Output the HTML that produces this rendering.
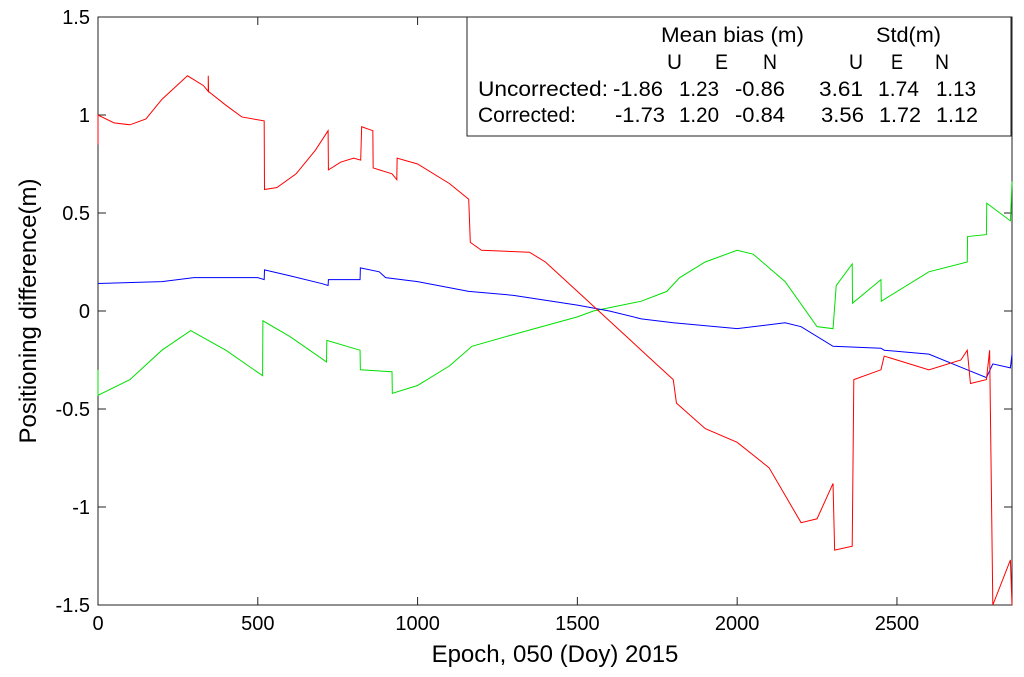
<!DOCTYPE html>
<html><head><meta charset="utf-8"><style>
body{margin:0;background:#fff}
svg{display:block;font-family:"Liberation Sans",sans-serif}
</style></head><body>
<svg id="c" width="1024" height="677"></svg>
<script>
const xTicks=[0,500,1000,1500,2000,2500];
const yTicks=[-1.5,-1,-0.5,0,0.5,1,1.5];
const yTickLabels=["-1.5","-1","-0.5","0","0.5","1","1.5"];
const redX=[0,0,50,100,150,200,280,330,345,345,346,400,450,520,521,560,620,680,720,721,760,800,822,825,860,861,920,935,936,1000,1100,1160,1165,1200,1350,1400,1500,1600,1700,1800,1810,1900,2000,2100,2200,2250,2300,2305,2360,2365,2450,2460,2500,2600,2700,2720,2730,2780,2790,2800,2855,2860];
const redY=[0.85,1.0,0.96,0.95,0.98,1.08,1.2,1.15,1.12,1.2,1.12,1.05,0.99,0.97,0.62,0.63,0.7,0.82,0.92,0.72,0.76,0.78,0.77,0.94,0.92,0.73,0.7,0.67,0.78,0.75,0.65,0.57,0.35,0.31,0.3,0.25,0.1,-0.05,-0.2,-0.35,-0.47,-0.6,-0.67,-0.8,-1.08,-1.06,-0.88,-1.22,-1.2,-0.35,-0.3,-0.23,-0.25,-0.3,-0.25,-0.2,-0.37,-0.35,-0.2,-1.5,-1.27,-1.5];
const blueX=[0,200,300,500,520,521,600,700,720,721,820,821,880,900,1000,1160,1300,1500,1600,1700,1800,2000,2150,2200,2300,2450,2460,2600,2720,2780,2800,2855,2860];
const blueY=[0.14,0.15,0.17,0.17,0.16,0.21,0.18,0.14,0.13,0.16,0.16,0.22,0.2,0.17,0.15,0.1,0.08,0.03,0.0,-0.04,-0.06,-0.09,-0.06,-0.08,-0.18,-0.19,-0.2,-0.22,-0.3,-0.34,-0.27,-0.29,-0.22];
const greenX=[0,0,100,200,290,400,515,516,600,715,716,820,821,920,921,1000,1100,1170,1300,1500,1550,1700,1780,1820,1900,2000,2050,2150,2250,2300,2310,2360,2361,2450,2451,2600,2720,2721,2780,2781,2855,2860];
const greenY=[-0.3,-0.43,-0.35,-0.2,-0.1,-0.2,-0.33,-0.05,-0.13,-0.26,-0.15,-0.2,-0.3,-0.31,-0.42,-0.38,-0.28,-0.18,-0.12,-0.03,0.0,0.05,0.1,0.17,0.25,0.31,0.29,0.15,-0.08,-0.09,0.13,0.24,0.04,0.16,0.05,0.2,0.25,0.38,0.39,0.55,0.46,0.66];
const L=98,R=1012,T=17,B=605,XMAX=2860;
const sx=v=>L+(v/XMAX)*(R-L), sy=v=>T+(1.5-v)/3*(B-T);
const svg=document.getElementById('c'),NS='http://www.w3.org/2000/svg';
function mk(t,a,p){const e=document.createElementNS(NS,t);for(const k in a)e.setAttribute(k,a[k]);(p||svg).appendChild(e);return e;}
let e=mk('rect',{x:L,y:T,width:R-L,height:B-T,fill:'#fff',stroke:'#222','stroke-width':1});


xTicks.forEach(v=>{mk('line',{x1:sx(v),x2:sx(v),y1:B,y2:B-8,stroke:'#222'});mk('line',{x1:sx(v),x2:sx(v),y1:T,y2:T+8,stroke:'#222'});
 const t=mk('text',{x:sx(v),y:B+25,'font-size':20,'text-anchor':'middle'});t.textContent=v;
 
 });
yTicks.forEach((v,i)=>{mk('line',{x1:L,x2:L+8,y1:sy(v),y2:sy(v),stroke:'#222'});mk('line',{x1:R,x2:R-8,y1:sy(v),y2:sy(v),stroke:'#222'});
 const t=mk('text',{x:L-8,y:sy(v)+7,'font-size':20,'text-anchor':'end'});t.textContent=yTickLabels[i];
 
 });
function line(xs,ys,c,n){const p=mk('polyline',{points:xs.map((x,i)=>sx(x)+','+sy(ys[i])).join(' '),fill:'none',stroke:c,'stroke-width':1});
 
 }
line(greenX,greenY,'#00e000','series-e');
line(blueX,blueY,'#0000ff','series-n');
line(redX,redY,'#ff0000','series-u');
let xt=mk('text',{x:555,y:662,'font-size':24,'text-anchor':'middle'});xt.textContent='Epoch, 050 (Doy) 2015';


let yt=mk('text',{x:0,y:0,'font-size':24,'text-anchor':'middle',transform:'translate(36,311) rotate(-90)'});yt.textContent='Positioning difference(m)';


const g=mk('g',{});


mk('rect',{x:467,y:17,width:544,height:119,fill:'#fff',stroke:'#222'},g);
const rows=[[661,143,42,'Mean bias (m)'],[876,65,42,'Std(m)'],[667,15,69,'U'],[715,13,69,'E'],[763,14,69,'N'],[849,14,69,'U'],[891,12,69,'E'],[935,14,69,'N'],
[478,130,96,'Uncorrected:'],[613,50,96,'-1.86'],[679,40,96,'1.23'],[735,50,96,'-0.86'],[819,44,96,'3.61'],[878,41,96,'1.74'],[936,40,96,'1.13'],
[478,98,122,'Corrected:'],[615,50,122,'-1.73'],[679,40,122,'1.20'],[735,50,122,'-0.84'],[821,43,122,'3.56'],[879,42,122,'1.72'],[936,42,122,'1.12']];
rows.forEach(r=>{const t=mk('text',{x:r[0],y:r[2],'font-size':21,textLength:r[1],lengthAdjust:'spacingAndGlyphs'},g);t.textContent=r[3];});
</script>
</body></html>
